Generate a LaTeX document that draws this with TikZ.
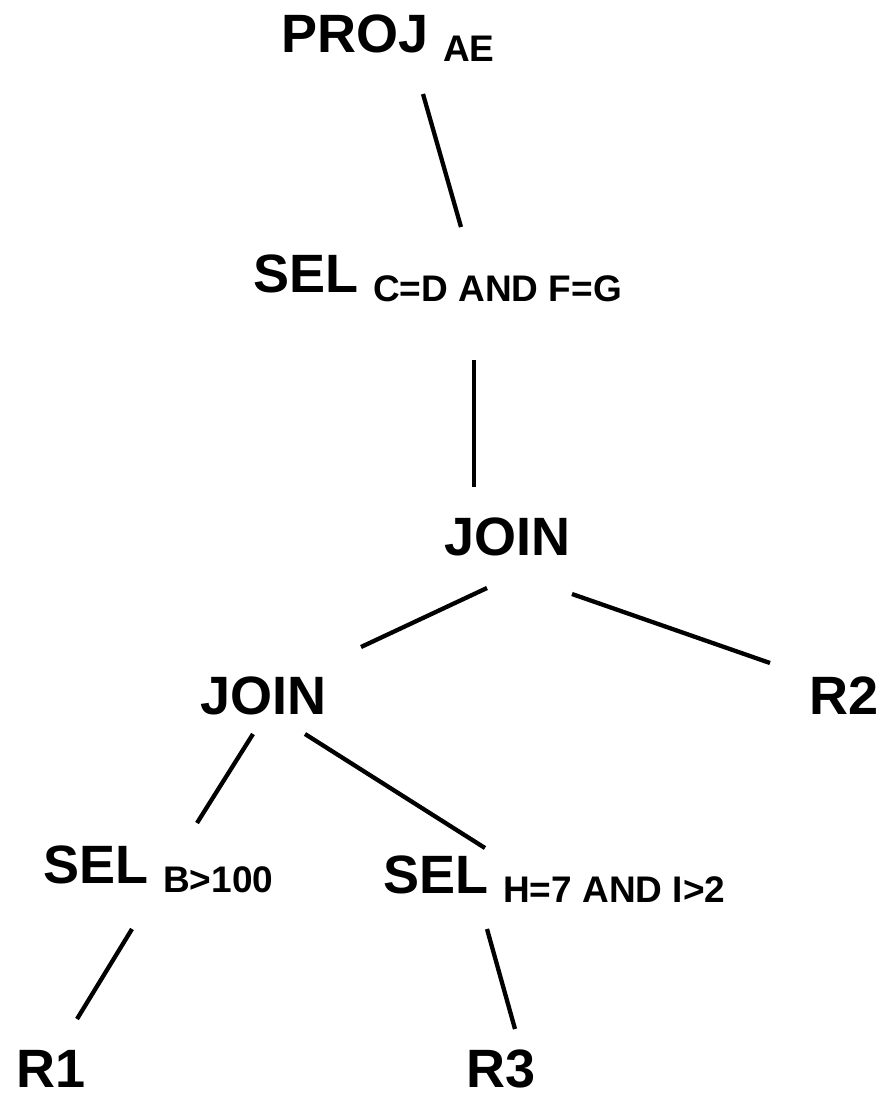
\documentclass[tikz,border=0pt]{standalone}
\usepackage{fontspec}
\setmainfont{Liberation Sans}
\newcommand{\lowsub}[1]{\raisebox{-9pt}{\fontsize{37}{40}\selectfont #1}}

\begin{document}
\begin{tikzpicture}[x=1pt,y=-1pt,
  op/.style={anchor=base west,inner sep=0pt,font=\bfseries\fontsize{54}{60}\selectfont},
  edge/.style={line width=4.3pt}]
\useasboundingbox (0,0) rectangle (887,1098);
% operators of the query tree
\node[op] (proj) at (281,52) {PROJ \lowsub{AE}};
\node[op] (sel1) at (253,292) {SEL \lowsub{C=D AND F=G}};
\node[op] (join1) at (444,555) {JOIN};
\node[op] (join2) at (200,714) {JOIN};
\node[op] (r2) at (809,714) {R2};
\node[op] (sel2) at (43,883) {SEL \lowsub{B>100}};
\node[op] (sel3) at (383,893) {SEL \lowsub{H=7 AND I>2}};
\node[op] (r1) at (16,1087) {R1};
\node[op] (r3) at (466,1087) {R3};
% edges
\draw[edge] ([shift={(142,42)}]proj.base west) -- ([shift={(208,-65)}]sel1.base west);
\draw[edge] ([shift={(221,68)}]sel1.base west) -- ([shift={(30,-68)}]join1.base west);
\draw[edge] ([shift={(43,33)}]join1.base west) -- ([shift={(161,-67)}]join2.base west);
\draw[edge] ([shift={(128,39)}]join1.base west) -- ([shift={(-39,-51)}]r2.base west);
\draw[edge] ([shift={(53,20)}]join2.base west) -- ([shift={(154,-60)}]sel2.base west);
\draw[edge] ([shift={(105,20)}]join2.base west) -- ([shift={(102,-45)}]sel3.base west);
\draw[edge] ([shift={(89,46)}]sel2.base west) -- ([shift={(61,-68)}]r1.base west);
\draw[edge] ([shift={(104,36)}]sel3.base west) -- ([shift={(49,-58)}]r3.base west);
\end{tikzpicture}
\end{document}
